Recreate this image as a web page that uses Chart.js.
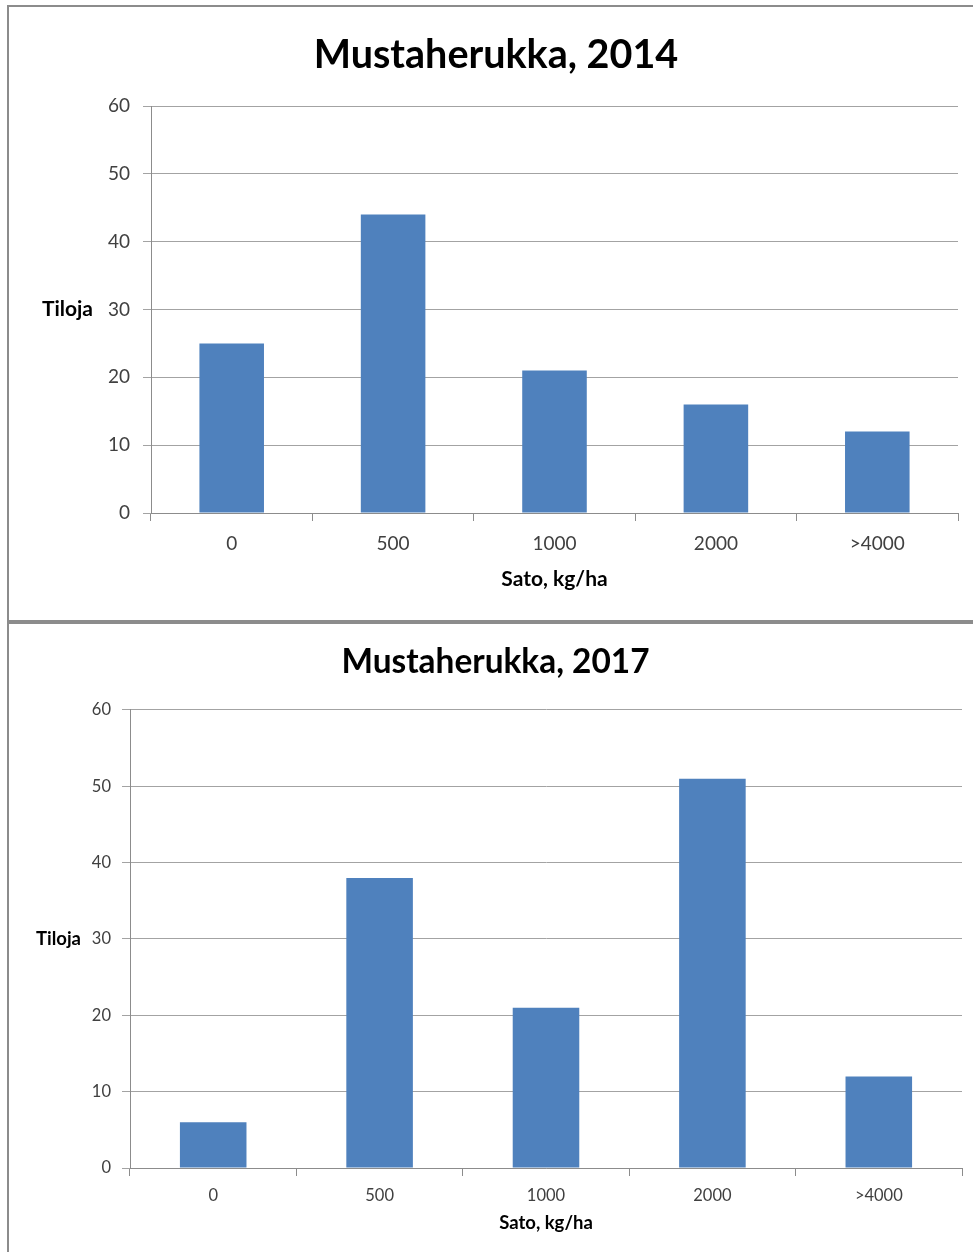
<!DOCTYPE html>
<html>
<head>
<meta charset="utf-8">
<title>Mustaherukka</title>
<script src="https://cdn.jsdelivr.net/npm/chart.js@4.4.1/dist/chart.umd.min.js"></script>
<style>
  html, body { margin: 0; padding: 0; background: #fff; }
  body { width: 973px; height: 1252px; overflow: hidden; position: relative; }
  .panel {
    position: absolute; left: 7px; width: 1000px;
    border: 2px solid #8c8c8c; border-right: none; box-sizing: border-box;
  }
  #panel1 { top: 5px; height: 617px; }
  #panel2 { top: 622px; height: 660px; }
  canvas { position: absolute; left: 0; }
  #chart2014 { top: 0; }
  #chart2017 { top: 624px; }
</style>
</head>
<body>
<div class="panel" id="panel1"></div>
<div class="panel" id="panel2"></div>
<canvas id="chart2014" width="973" height="620"></canvas>
<canvas id="chart2017" width="973" height="628"></canvas>
<script>
const categories = ['0', '500', '1000', '2000', '>4000'];
const farms2014 = [25, 44, 21, 16, 12];
const farms2017 = [6, 38, 21, 51, 12];
const yMin = 0, yMax = 60, yStep = 10;

const barColor = '#4f81bd';
const axisColor = '#8c8c8c';
const gridColor = '#a3a3a3';

Chart.defaults.font.family = 'Lato';

// horizontal "Tiloja" label left of the y axis, centred on the plot
const sideLabel = {
    id: 'sideLabel',
    afterDraw(chart, args, opts) {
        const { ctx, chartArea } = chart;
        ctx.save();
        ctx.font = `bold ${opts.size}px Lato`;
        ctx.fillStyle = '#000';
        ctx.textAlign = 'right';
        ctx.textBaseline = 'middle';
        ctx.fillText(opts.text, opts.x, (chartArea.top + chartArea.bottom) / 2);
        ctx.restore();
    }
};

function buildChart(id, title, values, s) {
    return new Chart(document.getElementById(id), {
        type: 'bar',
        data: {
            labels: categories,
            datasets: [{
                data: values,
                backgroundColor: barColor,
                categoryPercentage: 1,
                barPercentage: 0.4
            }]
        },
        options: {
            responsive: false,
            animation: false,
            // left padding pushes the centred title to the middle of the frame
            layout: { padding: { left: s.left, right: s.right, top: 0, bottom: 0 } },
            plugins: {
                legend: { display: false },
                tooltip: { enabled: false },
                title: {
                    display: true,
                    text: title,
                    color: '#000',
                    font: { size: s.titleSize, weight: 'bold' },
                    padding: { top: s.titleTop, bottom: s.titleBottom }
                },
                sideLabel: { text: 'Tiloja', size: s.labelSize, x: s.sideX }
            },
            scales: {
                x: {
                    grid: { drawOnChartArea: false, drawTicks: true, tickLength: 8, color: axisColor, offset: true },
                    border: { color: axisColor },
                    ticks: { color: '#404040', font: { size: s.tickSize }, padding: s.xPad },
                    title: {
                        display: true,
                        text: 'Sato, kg/ha',
                        color: '#000',
                        font: { size: s.labelSize, weight: 'bold' },
                        padding: { top: 0, bottom: s.xTitlePad }
                    },
                    afterFit: scale => { scale.height = s.xHeight; }
                },
                y: {
                    min: yMin,
                    max: yMax,
                    grid: { color: gridColor, tickLength: 8 },
                    border: { color: axisColor },
                    ticks: { stepSize: yStep, color: '#404040', font: { size: s.tickSize }, padding: s.yPad },
                    afterFit: scale => { scale.width = s.yWidth; }
                }
            }
        },
        plugins: [sideLabel]
    });
}

const chart2014 = buildChart('chart2014', 'Mustaherukka, 2014', farms2014, {
    left: 34, right: 15, titleSize: 39.5, titleTop: 32, titleBottom: 26.6,
    tickSize: 19, labelSize: 21, xPad: 11, xTitlePad: 28, xHeight: 107,
    yPad: 13, yWidth: 117, sideX: 93
});

const chart2017 = buildChart('chart2017', 'Mustaherukka, 2017', farms2017, {
    left: 29, right: 11, titleSize: 33.4, titleTop: 18, titleBottom: 27.9,
    tickSize: 16.5, labelSize: 18.5, xPad: 10, xTitlePad: 18, xHeight: 84,
    yPad: 11, yWidth: 101, sideX: 81
});
</script>
</body>
</html>
